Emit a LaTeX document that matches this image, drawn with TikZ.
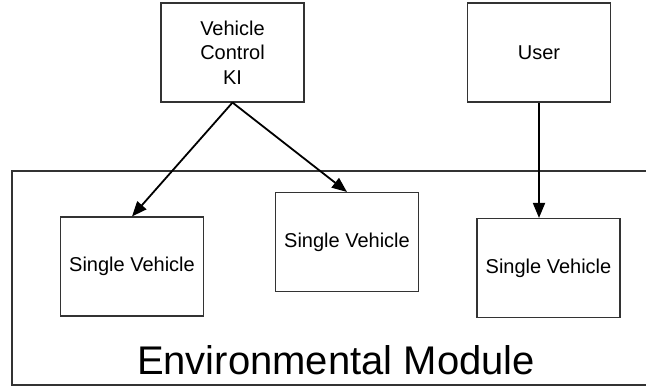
\documentclass[tikz,border=0pt]{standalone}
\usepackage{fontspec}
\setmainfont{Liberation Sans}
\usetikzlibrary{arrows.meta}
\begin{document}
\begin{tikzpicture}[x=1pt,y=-1pt,
  box/.style={draw=black!80,line width=1.1pt,minimum width=143pt,minimum height=99pt,inner sep=0pt,align=center,font=\fontsize{20}{24.5}\selectfont},
  conn/.style={line width=1.8pt,-{Triangle[length=15pt,width=12pt]}},
  frame/.style={draw=black!80,line width=1.1pt}]
\useasboundingbox (0,0) rectangle (646,388);
\node[box] (vck) at (232.5,52.5) {Vehicle\\Control\\KI};
\node[box] (user) at (539,52.5) {User};
\draw[frame] (646,171) -- (12,171) -- (12,385) -- (646,385);
\node[box] (sv1) at (132,266.5) {Single Vehicle};
\node[box] (sv2) at (347,242) {Single Vehicle};
\node[box] (sv3) at (548.5,268) {Single Vehicle};
\node[font=\fontsize{40}{48}\selectfont,inner sep=0pt,anchor=base] (env) at (336,374) {Environmental Module};
\coordinate (sv3top) at (sv3.north -| user.south);
\draw[conn] (vck.south) -- (sv1.north);
\draw[conn] (vck.south) -- (sv2.north);
\draw[conn] (user.south) -- (sv3top);
\end{tikzpicture}
\end{document}
